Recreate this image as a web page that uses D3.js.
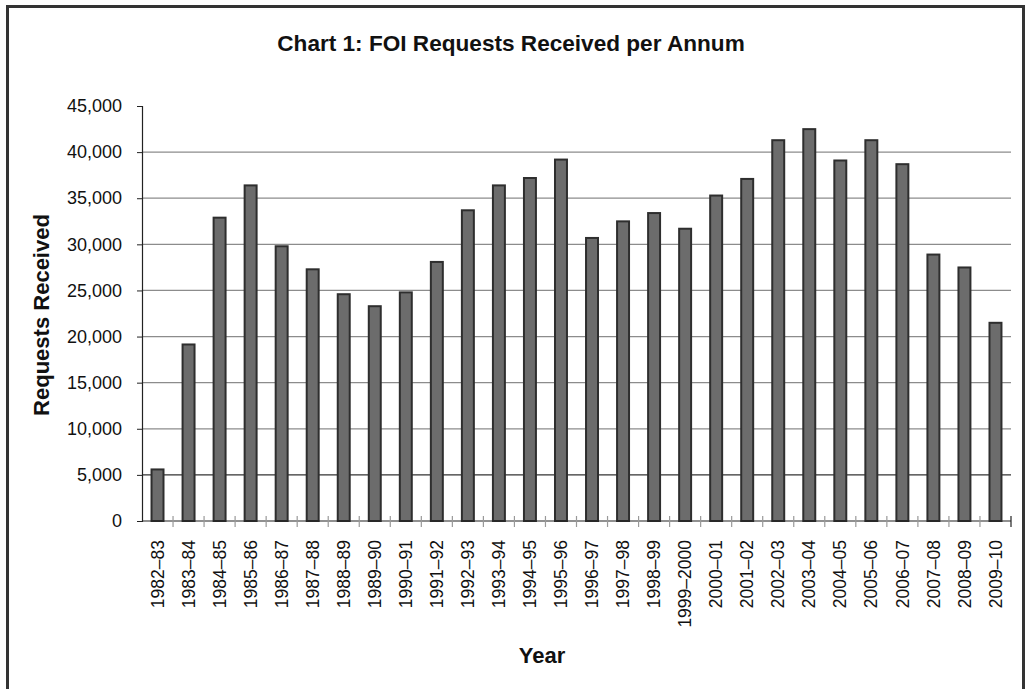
<!DOCTYPE html>
<html>
<head>
<meta charset="utf-8">
<script src="https://cdn.jsdelivr.net/npm/d3@7"></script>
<style>
  body { margin: 0; background: #fff; }
  svg { display: block; font-family: "Liberation Sans", Arial, Helvetica, sans-serif; }
</style>
</head>
<body>
<svg id="chart" width="1025" height="689"></svg>
<script>
// FOI requests received, one bar per financial year
var years = ["1982–83","1983–84","1984–85","1985–86","1986–87","1987–88","1988–89","1989–90",
  "1990–91","1991–92","1992–93","1993–94","1994–95","1995–96","1996–97","1997–98","1998–99",
  "1999–2000","2000–01","2001–02","2002–03","2003–04","2004–05","2005–06","2006–07","2007–08",
  "2008–09","2009–10"]
var requests = [5700, 19250, 33000, 36500, 29900, 27400, 24700, 23400, 24900, 28200, 33800,
  36500, 37300, 39300, 30800, 32600, 33500, 31800, 35400, 37200, 41400, 42600, 39200, 41400,
  38800, 29000, 27600, 21600]
var yTicks = [0, 5000, 10000, 15000, 20000, 25000, 30000, 35000, 40000, 45000]

var svg = d3.select("#chart")

// frame round the whole chart
svg.append("rect")
  .attr("x", 7.5).attr("y", 6.5)
  .attr("width", 1016).attr("height", 720)
  .attr("fill", "none")
  .attr("stroke", "#333")
  .attr("stroke-width", 3)

// plot area (careful: "top" is taken by window.top)
var pLeft = 142, pRight = 1011, pTop = 106, pBottom = 521

var x = d3.scaleBand()
  .domain(years)
  .range([pLeft, pRight])
  .paddingInner(0.55)
  .paddingOuter(0.275)

var y = d3.scaleLinear()
  .domain([0, 45000])
  .range([pBottom, pTop])

// gridlines (none on the top value)
svg.append("g").selectAll("line")
  .data(yTicks.filter(function(d){ return d > 0 && d < 45000 }))
  .enter().append("line")
  .attr("x1", pLeft).attr("x2", pRight)
  .attr("y1", function(d){ return y(d) }).attr("y2", function(d){ return y(d) })
  .attr("stroke", function(d){ return d == 5000 ? "#333" : "#8c8c8c" })
  .attr("stroke-width", 1.3)

// bars
svg.append("g").selectAll("rect")
  .data(requests)
  .enter().append("rect")
  .attr("x", function(d, i){ return x(years[i]) + 1 })
  .attr("width", x.bandwidth() - 2)
  .attr("y", function(d){ return y(d) + 1 })
  .attr("height", function(d){ return pBottom - y(d) - 1 })
  .attr("fill", "#6c6c6c")
  .attr("stroke", "#2e2e2e")
  .attr("stroke-width", 2)

// y axis
var yAxis = svg.append("g")
  .attr("transform", "translate(" + pLeft + ",0)")
  .call(d3.axisLeft(y).tickValues(yTicks).tickFormat(d3.format(",")).tickSize(5).tickPadding(15))
yAxis.select(".domain").attr("stroke", "#222").attr("stroke-width", 1.2)
yAxis.selectAll(".tick line").attr("stroke", "#222")
yAxis.selectAll("text")
  .attr("font-size", "18px")
  .attr("fill", "#111")
  .attr("font-family", "Liberation Sans, Arial, sans-serif")

// x axis line and category boundary ticks
svg.append("line")
  .attr("x1", pLeft).attr("x2", pRight)
  .attr("y1", pBottom).attr("y2", pBottom)
  .attr("stroke", "#222").attr("stroke-width", 1.2)

var step = x.step()
svg.append("g").selectAll("line")
  .data(years)
  .enter().append("line")
  .attr("x1", function(d){ return x(d) + x.bandwidth() / 2 + step / 2 })
  .attr("x2", function(d){ return x(d) + x.bandwidth() / 2 + step / 2 })
  .attr("y1", pBottom - 5).attr("y2", pBottom + 6)
  .attr("stroke", function(d, i){ return i == years.length - 1 ? "#222" : "#999" })
  .attr("stroke-width", 1.2)

svg.append("g").selectAll("text")
  .data(years)
  .enter().append("text")
  .attr("transform", function(d){
    return "translate(" + (x(d) + x.bandwidth() / 2) + ",540) rotate(-90)"
  })
  .attr("dy", "0.35em")
  .attr("text-anchor", "end")
  .attr("font-size", "17.5px")
  .attr("fill", "#111")
  .text(function(d){ return d })

// title and axis titles
svg.append("text")
  .attr("x", 511).attr("y", 51)
  .attr("text-anchor", "middle")
  .attr("font-size", "22.6px").attr("font-weight", "bold")
  .attr("fill", "#111")
  .text("Chart 1: FOI Requests Received per Annum")

svg.append("text")
  .attr("transform", "translate(49,315) rotate(-90)")
  .attr("text-anchor", "middle")
  .attr("font-size", "22px").attr("font-weight", "bold")
  .attr("fill", "#111")
  .text("Requests Received")

svg.append("text")
  .attr("x", 542).attr("y", 663)
  .attr("text-anchor", "middle")
  .attr("font-size", "22px").attr("font-weight", "bold")
  .attr("fill", "#111")
  .text("Year")
</script>
</body>
</html>
